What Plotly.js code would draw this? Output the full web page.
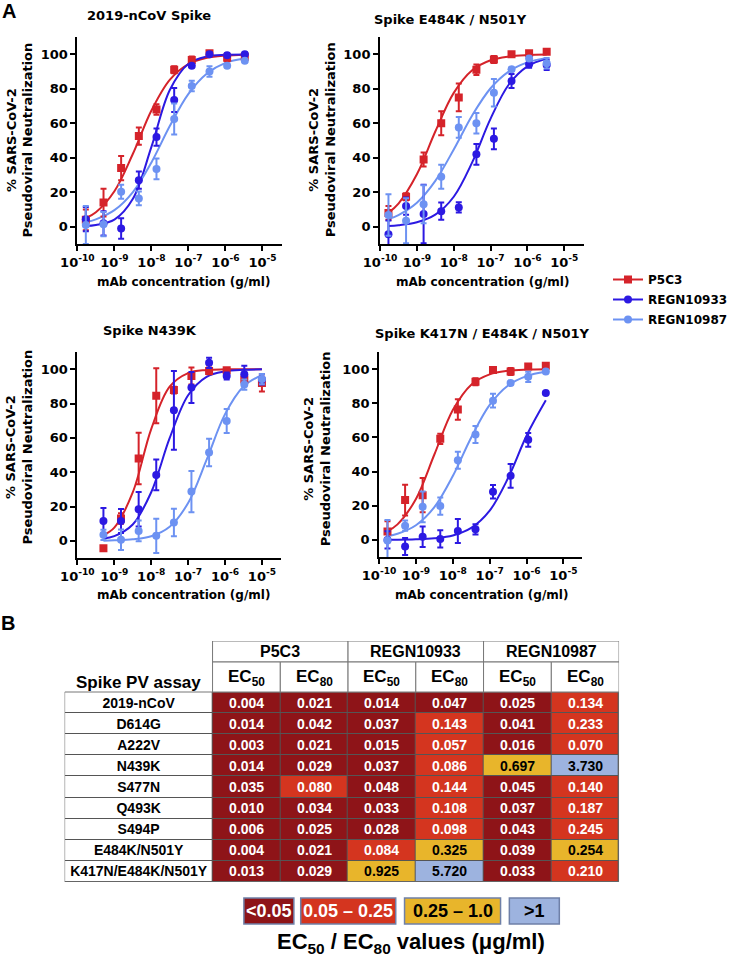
<!DOCTYPE html>
<html><head><meta charset="utf-8">
<script src="https://cdn.plot.ly/plotly-3.0.1.min.js"></script>
<style>html,body{margin:0;padding:0;background:#fff}#chart{width:733px;height:959px}</style>
</head><body><div id="chart"></div>
<script>
const W = 733, H = 959;

// ---------- Panel A data ----------
const ANTIBODIES = ['P5C3', 'REGN10933', 'REGN10987'];
const X_TICK_VALS = [1e-10, 1e-9, 1e-8, 1e-7, 1e-6, 1e-5];
const X_TICK_TEXT = ['10<sup>-10</sup>', '10<sup>-9</sup>', '10<sup>-8</sup>', '10<sup>-7</sup>', '10<sup>-6</sup>', '10<sup>-5</sup>'];
const Y_TICK_VALS = [0, 20, 40, 60, 80, 100];

// concentrations (g/ml)
const CONC_STD = [1.69e-10, 5.08e-10, 1.52e-9, 4.57e-9, 1.37e-8, 4.12e-8, 1.23e-7, 3.7e-7, 1.11e-6, 3.33e-6];
const CONC_N439K = [5.08e-10, 1.52e-9, 4.57e-9, 1.37e-8, 4.12e-8, 1.23e-7, 3.7e-7, 1.11e-6, 3.33e-6, 1e-5];
const FIT_X_STD = [1.69e-10, 3.16e-10, 1e-9, 3.16e-9, 1e-8, 3.16e-8, 1e-7, 3.16e-7, 1e-6, 3.33e-6];
const FIT_X_N439K = [5.08e-10, 1e-9, 3.16e-9, 1e-8, 3.16e-8, 1e-7, 3.16e-7, 1e-6, 3.16e-6, 1e-5];

// 2019-nCoV Spike
const NCOV_P5C3 = [4, 14, 34, 52.6, 68, 91, 96.7, 100.6, 98, 98.6];
const NCOV_P5C3_ERR = [6, 8, 7, 5, 3, 2, 2, 1, 2, 1];
const NCOV_R33 = [4.4, 2, -1, 27, 52, 73.5, 93.4, 100, 99.4, 100];
const NCOV_R33_ERR = [7, 7, 6, 5, 5, 7, 1, 1, 1, 1];
const NCOV_R87 = [1, 1.5, 20.3, 16.4, 33.5, 62.5, 81.6, 90, 93.4, 96.3];
const NCOV_R87_ERR = [11, 7, 4, 4, 6, 9, 3, 3, 1, 1];
const NCOV_P5C3_FIT = [5.0, 8.4, 20.6, 42.3, 67.4, 85.3, 94.3, 97.9, 99.2, 99.7];
const NCOV_R33_FIT = [0.4, 1.0, 4.1, 16.2, 46.3, 79.4, 94.5, 98.7, 99.7, 99.9];
const NCOV_R87_FIT = [2.7, 4.3, 9.6, 20.1, 37.3, 58.5, 77.0, 88.8, 95.0, 97.5];

// Spike E484K / N501Y
const EN_P5C3 = [8, 17.4, 39, 60, 75, 91, 97, 100, 100.6, 101.5];
const EN_P5C3_ERR = [4, 2, 4, 7, 8, 3, 2, 1, 1, 1];
const EN_R33 = [-4.4, 12, 7.4, 9, 11.2, 42, 51, 84.5, 94.2, 93.8];
const EN_R33_ERR = [8, 5, 17, 5, 3, 6, 6, 4, 2, 3];
const EN_R87 = [6.8, 3.5, 13, 29, 57.6, 60, 77.7, 91.3, 97.5, 94.8];
const EN_R87_ERR = [12, 13, 11, 7, 6, 6, 8, 1, 1, 3];
const EN_P5C3_FIT = [8.1, 13.4, 30.4, 55.2, 77.6, 90.7, 96.5, 98.7, 99.5, 99.8];
const EN_R33_FIT = [0.5, 0.9, 2.6, 7.0, 17.4, 37.3, 62.7, 82.6, 93.0, 97.5];
const EN_R87_FIT = [4.5, 6.8, 13.9, 26.6, 44.8, 64.5, 80.3, 90.1, 95.3, 97.9];

// Spike N439K
const NK_P5C3 = [-4.3, 13, 48, 84.5, 87.8, 96, 99, 99.4, 94, 92];
const NK_P5C3_ERR = [0, 3, 15, 16, 2, 5, 2, 1, 3, 5];
const NK_R33 = [11.6, 11.6, 18.4, 38.4, 76, 89.3, 103.7, 96, 97, 94];
const NK_R33_ERR = [7.5, 7, 10, 9, 23, 9, 3, 2, 5, 3];
const NK_R87 = [3.5, 0.6, 5.8, 2.9, 10.7, 28.7, 51.4, 69.8, 91, 94.2];
const NK_R87_ERR = [3, 6, 6, 10, 8, 12, 8, 7, 3, 3];
const NK_P5C3_FIT = [3.3, 7.7, 28.2, 65.1, 89.8, 97.7, 99.5, 99.9, 100, 100];
const NK_R33_FIT = [1.3, 2.7, 9.5, 28.3, 59.8, 84.8, 95.5, 98.7, 99.6, 99.9];
const NK_R87_FIT = [0.1, 0.3, 0.9, 2.7, 8.2, 22.0, 47.1, 73.8, 89.9, 96.6];

// Spike K417N / E484K / N501Y
const KEN_P5C3 = [4.9, 23.3, 26.2, 59.2, 76.3, 92.6, 99.4, 98.6, 101.5, 101.9];
const KEN_P5C3_ERR = [6, 9, 10, 3, 6, 2, 1, 2, 1, 1];
const KEN_R33 = [0, -3.9, 1.9, 0.6, 5.2, 6.2, 28.2, 37.5, 58.6, 86];
const KEN_R33_ERR = [5, 5, 6, 5, 7, 3, 4, 7, 4, 0];
const KEN_R87 = [-0.4, 8.3, 19.4, 19.8, 46.6, 61.7, 81.5, 91.8, 95.5, 98.6];
const KEN_R87_ERR = [12, 3, 9, 5, 5, 5, 4, 1, 3, 1];
const KEN_P5C3_FIT = [5.1, 9.1, 24.0, 50, 76.0, 90.9, 96.9, 99.0, 99.7, 99.9];
const KEN_R33_FIT = [0.1, 0.1, 0.35, 1.0, 2.6, 7.0, 17.1, 36.2, 61.0, 81.7];
const KEN_R87_FIT = [2.2, 3.6, 8.6, 19.2, 37.4, 60.0, 79.0, 90.4, 95.9, 98.4];

// ---------- Panel B data ----------
const ASSAYS = ['2019-nCoV', 'D614G', 'A222V', 'N439K', 'S477N', 'Q493K', 'S494P', 'E484K/N501Y', 'K417N/E484K/N501Y'];
const P5C3_EC50 = [0.004, 0.014, 0.003, 0.014, 0.035, 0.010, 0.006, 0.004, 0.013];
const P5C3_EC80 = [0.021, 0.042, 0.021, 0.029, 0.080, 0.034, 0.025, 0.021, 0.029];
const R33_EC50 = [0.014, 0.037, 0.015, 0.037, 0.048, 0.033, 0.028, 0.084, 0.925];
const R33_EC80 = [0.047, 0.143, 0.057, 0.086, 0.144, 0.108, 0.098, 0.325, 5.720];
const R87_EC50 = [0.025, 0.041, 0.016, 0.697, 0.045, 0.037, 0.043, 0.039, 0.033];
const R87_EC80 = [0.134, 0.233, 0.070, 3.730, 0.140, 0.187, 0.245, 0.254, 0.210];
const COL_GROUPS = ['P5C3', 'REGN10933', 'REGN10987'];
const COL_SUBS = ['EC<sub>50</sub>', 'EC<sub>80</sub>', 'EC<sub>50</sub>', 'EC<sub>80</sub>', 'EC<sub>50</sub>', 'EC<sub>80</sub>'];
const BIN_LABELS = ['&lt;0.05', '0.05 – 0.25', '0.25 – 1.0', '&gt;1'];
const BIN_EDGES = [0.05, 0.25, 1.0];

// ---------- styles ----------
const COLORS = ['#D5232A', '#2C19E2', '#6D92F2'];
const SYMBOLS = ['square', 'circle', 'circle'];
const BIN_COLORS = ['#8E1418', '#D4351F', '#E8B52B', '#9DB3DF'];
const BIN_TEXT = ['#fff', '#fff', '#000', '#000'];
const PF = 'DejaVu Sans, Verdana, sans-serif';
const TF = 'Liberation Sans, Arial, sans-serif';

const panels = [
  {name: '2019-nCoV Spike', conc: CONC_STD, fitX: FIT_X_STD,
   y: [NCOV_P5C3, NCOV_R33, NCOV_R87], e: [NCOV_P5C3_ERR, NCOV_R33_ERR, NCOV_R87_ERR], f: [NCOV_P5C3_FIT, NCOV_R33_FIT, NCOV_R87_FIT],
   box: {l: 79, r: 288, t: 37, b: 244}, xr: [-10, -4.47], tt: [152, 16], yt: [20, 140], xt: [187, 282]},
  {name: 'Spike E484K / N501Y', conc: CONC_STD, fitX: FIT_X_STD,
   y: [EN_P5C3, EN_R33, EN_R87], e: [EN_P5C3_ERR, EN_R33_ERR, EN_R87_ERR], f: [EN_P5C3_FIT, EN_R33_FIT, EN_R87_FIT],
   box: {l: 388, r: 596, t: 37, b: 244}, xr: [-10, -4.47], tt: [460, 20], yt: [329, 140], xt: [493, 282]},
  {name: 'Spike N439K', conc: CONC_N439K, fitX: FIT_X_N439K,
   y: [NK_P5C3, NK_R33, NK_R87], e: [NK_P5C3_ERR, NK_R33_ERR, NK_R87_ERR], f: [NK_P5C3_FIT, NK_R33_FIT, NK_R87_FIT],
   box: {l: 79, r: 287, t: 352, b: 558}, xr: [-10, -4.48], tt: [153, 330], yt: [19, 447], xt: [187, 595]},
  {name: 'Spike K417N / E484K / N501Y', conc: CONC_STD, fitX: FIT_X_STD,
   y: [KEN_P5C3, KEN_R33, KEN_R87], e: [KEN_P5C3_ERR, KEN_R33_ERR, KEN_R87_ERR], f: [KEN_P5C3_FIT, KEN_R33_FIT, KEN_R87_FIT],
   box: {l: 387, r: 594, t: 352, b: 557}, xr: [-10, -4.5], tt: [493, 333], yt: [324, 449], xt: [492, 595]}
];

const traces = [];
const layout = {
  width: W, height: H, margin: {l: 0, r: 0, t: 0, b: 0},
  paper_bgcolor: '#fff', plot_bgcolor: 'rgba(0,0,0,0)',
  showlegend: true,
  legend: {x: 621 / W, xanchor: 'left', y: 1 - 265 / H, yanchor: 'top', bgcolor: 'rgba(0,0,0,0)',
           font: {family: PF, size: 12, weight: 'bold', color: '#000'}, itemwidth: 30, tracegroupgap: 1},
  annotations: [], shapes: []
};
const px = v => v / W, py = v => 1 - v / H;
function ann(text, x, y, font, extra) {
  layout.annotations.push(Object.assign({text, x, y, xref: 'paper', yref: 'paper', showarrow: false,
    xanchor: 'center', yanchor: 'middle', font}, extra || {}));
}
const bold = (family, size, color) => ({family, size, color, weight: 'bold'});
const axFont = bold(PF, 13, '#000');

panels.forEach((p, i) => {
  const s = i === 0 ? '' : String(i + 1);
  const xa = 'x' + s, ya = 'y' + s;
  layout['xaxis' + s] = {domain: [px(p.box.l), px(p.box.r)], type: 'log', range: p.xr, anchor: ya,
    tickvals: X_TICK_VALS, ticktext: X_TICK_TEXT, showline: true, linewidth: 2, linecolor: '#000',
    ticks: 'outside', ticklen: 5, tickwidth: 2, tickcolor: '#000', showgrid: false, zeroline: false,
    tickfont: axFont, fixedrange: true};
  layout['yaxis' + s] = {domain: [py(p.box.b), py(p.box.t)], range: [-10, 110], anchor: xa,
    tickvals: Y_TICK_VALS, showline: true, linewidth: 2, linecolor: '#000',
    ticks: 'outside', ticklen: 5, tickwidth: 2, tickcolor: '#000', showgrid: false, zeroline: false,
    tickfont: axFont, fixedrange: true};
  ANTIBODIES.forEach((ab, k) => {
    traces.push({type: 'scatter', mode: 'lines', x: p.fitX, y: p.f[k], xaxis: xa, yaxis: ya,
      line: {color: COLORS[k], width: 2, shape: 'spline'}, showlegend: false, hoverinfo: 'skip'});
  });
  ANTIBODIES.forEach((ab, k) => {
    traces.push({type: 'scatter', mode: 'markers', x: p.conc, y: p.y[k], xaxis: xa, yaxis: ya, name: ab,
      marker: {color: COLORS[k], symbol: SYMBOLS[k], size: 8},
      error_y: {type: 'data', array: p.e[k], visible: true, thickness: 2, width: 3, color: COLORS[k]},
      showlegend: false});
  });
  ann(p.name, px(p.tt[0]), py(p.tt[1]), bold(PF, 13, '#000'));
  ann('% SARS-CoV-2<br>Pseudoviral Neutralization', px(p.yt[0]), py(p.yt[1]), bold(PF, 13, '#000'), {textangle: -90});
  ann('mAb concentration (g/ml)', px(p.xt[0]), py(p.xt[1]), bold(PF, 12, '#000'));
});
// legend entries
ANTIBODIES.forEach((ab, k) => {
  traces.push({type: 'scatter', mode: 'lines+markers', x: [null], y: [null], name: ab, legendgroup: ab,
    line: {color: COLORS[k], width: 2}, marker: {color: COLORS[k], symbol: SYMBOLS[k], size: 8}});
});

// ---------- table ----------
const TBL = {l: 66, split: 217, r: 632, top: 641, h1: 662, h2: 692, bot: 882};
const colW = (TBL.r - TBL.split) / 6;
const labelW = (TBL.split - TBL.l) / colW;
const rowH = (TBL.bot - TBL.h2) / ASSAYS.length;
const yTop = -0.5 - (TBL.h2 - TBL.top) / rowH;
const yMid = -0.5 - (TBL.h2 - TBL.h1) / rowH;
layout.xaxis5 = {domain: [px(TBL.l), px(TBL.r)], range: [-labelW, 6], anchor: 'y5', visible: false, fixedrange: true};
layout.yaxis5 = {domain: [py(TBL.bot), py(TBL.top)], range: [ASSAYS.length - 0.5, yTop], anchor: 'x5', visible: false, fixedrange: true};
const tx = u => px(TBL.l + (u + labelW) * colW);
const ty = u => py(TBL.h2 + (u + 0.5) * rowH);

const COLS = [P5C3_EC50, P5C3_EC80, R33_EC50, R33_EC80, R87_EC50, R87_EC80];
const binOf = v => v < BIN_EDGES[0] ? 0 : v < BIN_EDGES[1] ? 1 : v <= BIN_EDGES[2] ? 2 : 3;
const z = ASSAYS.map((a, r) => [-1].concat(COLS.map(c => binOf(c[r]))));
const cellText = ASSAYS.map((a, r) => [a].concat(COLS.map(c => c[r].toFixed(3))));
const whiteText = cellText.map((row, r) => row.map((t, c) => (c > 0 && BIN_TEXT[z[r][c]] === '#fff') ? t : ''));
const darkText = cellText.map((row, r) => row.map((t, c) => (c === 0 || BIN_TEXT[z[r][c]] === '#000') ? t : ''));
const xEdges = [-labelW].concat([0, 1, 2, 3, 4, 5, 6]);
const rowIdx = ASSAYS.map((a, r) => r);
const cellFont = c => ({family: TF, size: 14, color: c, weight: 'bold'});
traces.push({type: 'heatmap', xaxis: 'x5', yaxis: 'y5', x: xEdges, y: rowIdx, z,
  zmin: -1, zmax: 3, showscale: false, xgap: 1, ygap: 1, hoverinfo: 'skip',
  text: whiteText, texttemplate: '%{text}', textfont: cellFont('#ffffff'),
  colorscale: [[0, '#ffffff'], [0.125, '#ffffff'], [0.125, BIN_COLORS[0]], [0.375, BIN_COLORS[0]],
    [0.375, BIN_COLORS[1]], [0.625, BIN_COLORS[1]], [0.625, BIN_COLORS[2]], [0.875, BIN_COLORS[2]],
    [0.875, BIN_COLORS[3]], [1, BIN_COLORS[3]]]});
traces.push({type: 'heatmap', xaxis: 'x5', yaxis: 'y5', x: xEdges, y: rowIdx, z,
  zmin: -1, zmax: 3, showscale: false, xgap: 1, ygap: 1, hoverinfo: 'skip',
  text: darkText, texttemplate: '%{text}', textfont: cellFont('#000000'),
  colorscale: [[0, 'rgba(0,0,0,0)'], [1, 'rgba(0,0,0,0)']]});
layout.shapes.push({type: 'rect', xref: 'x5', yref: 'y5', x0: -labelW, x1: 6, y0: -0.5, y1: ASSAYS.length - 0.5,
  fillcolor: '#555', line: {width: 0}, layer: 'below'});
layout.shapes.push({type: 'rect', xref: 'x5', yref: 'y5', x0: -labelW, x1: 6, y0: -0.5, y1: ASSAYS.length - 0.5,
  fillcolor: 'rgba(0,0,0,0)', line: {width: 1, color: '#777'}});
COL_GROUPS.forEach((g, gi) => {
  layout.shapes.push({type: 'rect', xref: 'x5', yref: 'y5', x0: gi * 2, x1: gi * 2 + 2, y0: yTop, y1: yMid,
    fillcolor: '#fff', line: {width: 1, color: '#777'}});
  ann(g, tx(gi * 2 + 1), ty((yTop + yMid) / 2), bold(TF, 16, '#000'));
});
COL_SUBS.forEach((t, c) => {
  layout.shapes.push({type: 'rect', xref: 'x5', yref: 'y5', x0: c, x1: c + 1, y0: yMid, y1: -0.5,
    fillcolor: '#fff', line: {width: 1, color: '#777'}});
  ann(t, tx(c + 0.5), ty((yMid - 0.5) / 2 + 0.05), bold(TF, 17, '#000'));
});
ann('Spike PV assay', tx(-labelW / 2), ty(-0.5 - 10 / rowH), bold(TF, 17, '#000'));

// colour key
const KEY_BOXES = [[249, 300], [307, 404], [413, 511], [520, 571]];
const KEY_Y = [898, 924];
BIN_LABELS.forEach((lab, b) => {
  const [x0, x1] = KEY_BOXES[b];
  layout.shapes.push({type: 'rect', xref: 'paper', yref: 'paper', x0: px(x0), x1: px(x1), y0: py(KEY_Y[1]), y1: py(KEY_Y[0]),
    fillcolor: BIN_COLORS[b], line: {width: 1.5, color: '#6F80A8'}});
  ann(lab, px((x0 + x1) / 2), py((KEY_Y[0] + KEY_Y[1]) / 2), bold(TF, 18, BIN_TEXT[b]));
});
ann('EC<sub>50</sub> / EC<sub>80</sub> values (μg/ml)', px(420), py(943), bold(TF, 22, '#000'));

// panel letters
ann('A', px(9), py(11), bold(TF, 20, '#000'));
ann('B', px(8), py(623), bold(TF, 20, '#000'));

Plotly.newPlot('chart', traces, layout, {staticPlot: true, displayModeBar: false});
</script></body></html>
